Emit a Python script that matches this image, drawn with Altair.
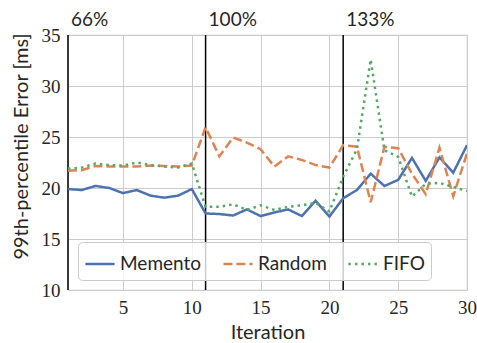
import altair as alt
import pandas as pd

iterations = list(range(1, 31))
memento = [19.9, 19.8, 20.2, 20.0, 19.5, 19.8, 19.25, 19.05, 19.25, 19.9,
           17.5, 17.45, 17.3, 17.9, 17.25, 17.6, 17.9, 17.25, 18.75, 17.2,
           19.0, 19.8, 21.4, 20.2, 20.8, 22.95, 20.7, 23.0, 21.5, 24.2]
random_ = [21.7, 21.75, 22.15, 22.1, 22.1, 22.1, 22.2, 22.15, 22.1, 22.2,
           25.95, 23.1, 24.95, 24.45, 23.8, 22.1, 23.1, 22.75, 22.25, 22.0,
           24.2, 24.05, 18.6, 24.05, 23.9, 21.4, 19.4, 23.95, 19.2, 23.4]
fifo = [21.9, 22.0, 22.4, 22.25, 22.2, 22.5, 22.25, 22.1, 22.0, 22.4,
        18.15, 18.15, 18.4, 17.85, 18.3, 17.85, 18.15, 18.3, 18.55, 17.7,
        21.1, 23.8, 32.6, 23.7, 23.05, 19.15, 20.4, 20.5, 20.1, 19.7]

series = ["Memento", "Random", "FIFO"]
colors = ["#4C72B0", "#DD8452", "#55A868"]
dashes = [[1, 0], [9, 4], [2.5, 4]]

phase_starts = [1, 11, 21]
phase_labels = ["66%", "100%", "133%"]

rows = []
for name, vals in zip(series, [memento, random_, fifo]):
    for it, v in zip(iterations, vals):
        rows.append({"Iteration": it, "Error": v, "Policy": name})
df = pd.DataFrame(rows)
phases = pd.DataFrame({"Iteration": phase_starts, "label": phase_labels})

sans = "Lato"
serif = "Liberation Serif"

x_scale = alt.Scale(domain=[1, 30], nice=False, zero=False)
y_scale = alt.Scale(domain=[10, 35], nice=False, zero=False)

lines = alt.Chart(df).mark_line(strokeWidth=2.5, clip=True).encode(
    x=alt.X("Iteration:Q", scale=x_scale,
            axis=alt.Axis(title="Iteration", values=[5, 10, 15, 20, 25, 30])),
    y=alt.Y("Error:Q", scale=y_scale,
            axis=alt.Axis(title="99th-percentile Error [ms]",
                          values=[10, 15, 20, 25, 30, 35])),
    color=alt.Color("Policy:N",
                    scale=alt.Scale(domain=series, range=colors),
                    sort=series,
                    legend=alt.Legend(title=None, orient="none",
                                      direction="horizontal",
                                      legendX=10, legendY=207,
                                      symbolType="stroke",
                                      symbolSize=850,
                                      symbolStrokeWidth=2.5,
                                      labelFont=sans, labelFontSize=19,
                                      labelColor="#262626",
                                      columnPadding=16,
                                      padding=6,
                                      fillColor="rgba(255,255,255,0.8)",
                                      strokeColor="#cccccc",
                                      cornerRadius=4)),
    strokeDash=alt.StrokeDash("Policy:N",
                              scale=alt.Scale(domain=series, range=dashes),
                              sort=series, legend=None),
)

vrules = alt.Chart(phases).mark_rule(color="black", strokeWidth=1.5).encode(
    x=alt.X("Iteration:Q", scale=x_scale)
)

vlabels = alt.Chart(phases).mark_text(
    align="left", baseline="alphabetic", dx=3, font=sans, fontSize=19,
    color="#262626"
).encode(
    x=alt.X("Iteration:Q", scale=x_scale),
    y=alt.value(-9),
    text="label:N",
)

chart = alt.layer(vrules, lines, vlabels).properties(
    width=399, height=255,
    autosize=alt.AutoSizeParams(type="none"),
    padding={"left": 68, "top": 35, "right": 10, "bottom": 53},
).configure_view(
    stroke="#cccccc", strokeWidth=1.2
).configure_axis(
    grid=True, gridColor="#cccccc", gridWidth=1,
    domain=False, ticks=False,
    labelFont=serif, labelFontSize=19, labelColor="#262626",
    labelPadding=8,
    titleFont=sans, titleFontSize=20, titleColor="#262626",
    titleFontWeight="normal",
).configure_axisY(
    titlePadding=10, titleY=111,
).configure_axisX(
    titlePadding=5, labelFlush=False,
)

chart.save("out.html", embed_options={"renderer": "svg", "actions": False})
